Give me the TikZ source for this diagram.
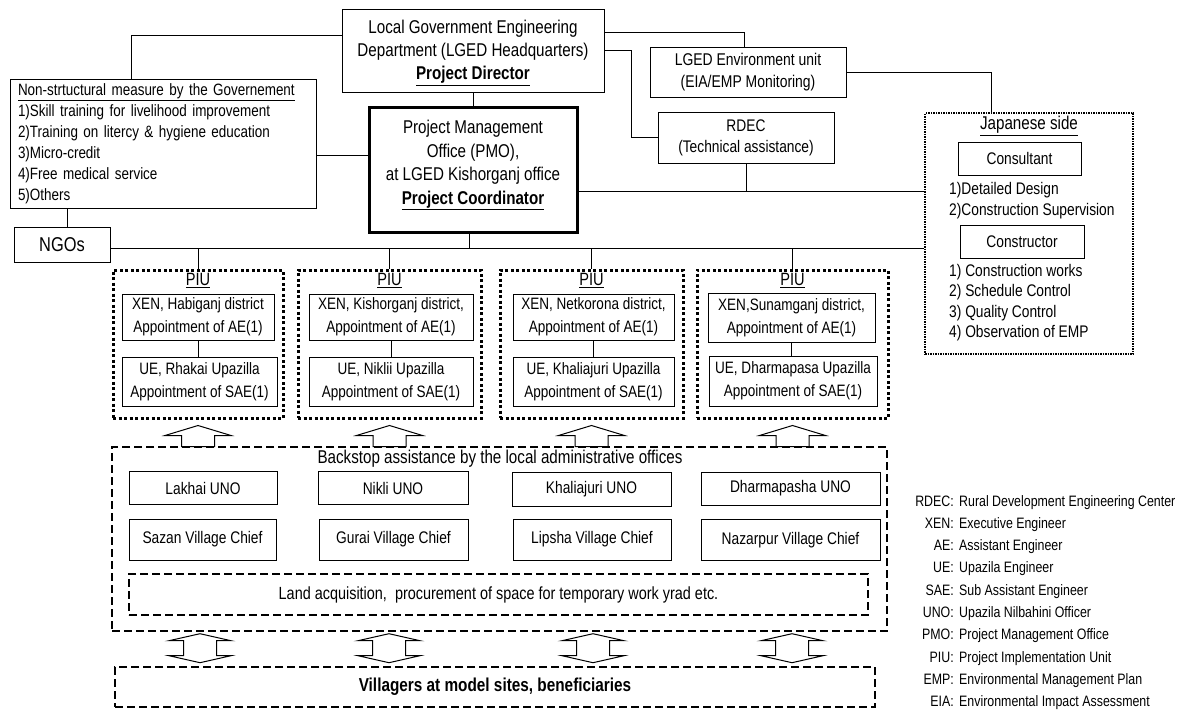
\documentclass[tikz,border=0pt]{standalone}
\usepackage{fontspec}
\setmainfont{Liberation Sans}[FakeStretch=0.82]
\usetikzlibrary{calc}
\newcommand\fsz[2]{\fontsize{#1}{#2}\selectfont}
% underlined bold title with a set depth
\newcommand\ulbold[2]{\raisebox{0pt}[\height][#1]{\underline{\textbf{#2}}}}

\begin{document}
\begin{tikzpicture}[
  x=1pt, y=-1pt,
  box/.style={draw, line width=1pt, inner sep=0pt, align=center, font=\fsz{16.8}{21}},
  pmobox/.style={box, line width=3pt},
  piubox/.style={draw, line width=3pt, dash pattern=on 3pt off 2.5pt, inner sep=0pt},
  jpbox/.style={draw, line width=2pt, dash pattern=on 1.5pt off 1pt, inner sep=0pt},
  dashbox/.style={draw, line width=1.4pt, dash pattern=on 8pt off 4pt, inner sep=0pt, align=center},
  link/.style={draw, line width=1pt},
  uparrow/.pic={\draw[line width=1pt] (0,0) -- (33,10) -- (16.5,10) -- (16.5,21) -- (-16.5,21) -- (-16.5,10) -- (-33,10) -- cycle;},
  updown/.pic={\draw[line width=1pt] (0,0) -- (31,7) -- (16.5,7) -- (16.5,22) -- (31,22) -- (0,29) -- (-31,22) -- (-16.5,22) -- (-16.5,7) -- (-31,7) -- cycle;}
]
\useasboundingbox (0,0) rectangle (1188,718);

% ------------------------------------------------------------------
% Government side
% ------------------------------------------------------------------
\node[box, font=\fsz{18.5}{23}, minimum width=262pt, minimum height=83pt] (hq) at (473,50.5)
{Local Government Engineering\\Department (LGED Headquarters)\\\ulbold{1pt}{Project Director}};

\node[box, font=\fsz{16.4}{21}, align=left, text width=290pt, inner xsep=8pt, minimum height=129pt] (ns) at (163,143.5)
{\underline{Non-strtuctural measure by the Governement}\\1)Skill training for livelihood improvement\\2)Training on litercy \& hygiene education\\3)Micro-credit\\4)Free medical service\\5)Others};

\node[box, font=\fsz{20}{24}, minimum width=96pt, minimum height=35pt] (ngo) at (62,245) {NGOs};

\node[pmobox, font=\fsz{18.5}{23.5}, minimum width=208pt, minimum height=125pt] (pmo) at (473,169.5)
{Project Management\\Office (PMO),\\at LGED Kishorganj office\\\ulbold{14pt}{Project Coordinator}};

\node[box, font=\fsz{17}{22}, minimum width=196pt, minimum height=50pt] (env) at (748,72) {LGED Environment unit\\(EIA/EMP Monitoring)};
\node[box, font=\fsz{16.8}{21}, minimum width=176pt, minimum height=51pt] (rdec) at (746,137.5) {RDEC\\(Technical assistance)};

% ------------------------------------------------------------------
% Japanese side
% ------------------------------------------------------------------
\node[jpbox, minimum width=208pt, minimum height=241pt] (jp) at (1029,233.5) {};
\node[font=\fsz{18.5}{22}] (jptitle) at (1029,126) {\underline{Japanese side}};
\node[box, minimum width=123pt, minimum height=33pt] (cons) at (1019.5,158.5) {Consultant};
\node[font=\fsz{16.8}{21}, align=left, anchor=north west, inner sep=0pt] (consjob) at (949,182) {1)Detailed Design\\2)Construction Supervision};
\node[box, minimum width=124pt, minimum height=33pt] (ctr) at (1022,241.5) {Constructor};
\node[font=\fsz{16.8}{20.5}, align=left, anchor=north west, inner sep=0pt] (ctrjob) at (949,264)
{1) Construction works\\2) Schedule Control\\3) Quality Control\\4) Observation of EMP};

% ------------------------------------------------------------------
% connectors
% ------------------------------------------------------------------
\coordinate (nsup) at ($(ns.north)+(-32,0)$);
\draw[link] (nsup) |- ($(hq.west)+(0,-15.5)$);
\coordinate (ngoup) at ($(ngo.north)+(5,0)$);
\draw[link] (ngoup) -- (ngoup |- ns.south);
\coordinate (nsright) at ($(ns.east)+(0,11.5)$);
\draw[link] (nsright) -- (nsright -| pmo.west);
\draw[link] (hq.south) -- (pmo.north);
\coordinate (hqtop) at ($(hq.north east)+(0,24)$);
\draw[link] (hqtop) -| ($(env.north)+(-4,0)$);
\draw[link] (hq.east) -- ++(27,0) |- (rdec.west);
\draw[link] (env.east) -| ($(jp.north)+(-38,0)$);
\coordinate (rbus) at ($(pmo.east)+(0,21.5)$);
\draw[link] (rbus) -- (rbus -| jp.west);
\draw[link] (rdec.south) -- (rdec.south |- rbus);
\coordinate (bus) at ($(ngo.east)+(0,3)$);
\draw[link] (bus) -- (bus -| jp.west);
\draw[link] ($(pmo.south)+(-4,0)$) -- ($(pmo.south |- bus)+(-4,0)$);

% ------------------------------------------------------------------
% PIUs
% ------------------------------------------------------------------
\node[piubox, minimum width=170pt, minimum height=148pt] (piu1) at (198,344) {};
\node[piubox, minimum width=183pt, minimum height=148pt] (piu2) at (389.5,344) {};
\node[piubox, minimum width=183pt, minimum height=148pt] (piu3) at (591.5,344) {};
\node[piubox, minimum width=191pt, minimum height=148pt] (piu4) at (792.5,344) {};

\foreach \p in {piu1,piu2,piu3,piu4} {
  \node[font=\fsz{17.8}{21}] (\p t) at ($(\p.north)+(0,12)$) {\underline{PIU}};
  \draw[link] (\p.north |- bus) -- (\p.north);
  \pic at ($(\p.south)+(0,6)$) {uparrow};
}

\node[box, font=\fsz{16.5}{23}, minimum width=152pt, minimum height=46pt] (xen1) at (198,317) {XEN, Habiganj district\\Appointment of AE(1)};
\node[box, font=\fsz{16.5}{23}, minimum width=155pt, minimum height=49pt] (ue1) at (199.5,381.5) {UE, Rhakai Upazilla\\Appointment of SAE(1)};
\node[box, font=\fsz{16.5}{23}, minimum width=164pt, minimum height=46pt] (xen2) at (391,317) {XEN, Kishorganj district,\\Appointment of AE(1)};
\node[box, font=\fsz{16.5}{23}, minimum width=164pt, minimum height=49pt] (ue2) at (391,381.5) {UE, Niklii Upazilla\\Appointment of SAE(1)};
\node[box, font=\fsz{16.5}{23}, minimum width=161pt, minimum height=46pt] (xen3) at (593.5,317) {XEN, Netkorona district,\\Appointment of AE(1)};
\node[box, font=\fsz{16.5}{23}, minimum width=161pt, minimum height=49pt] (ue3) at (593.5,381.5) {UE, Khaliajuri Upazilla\\Appointment of SAE(1)};
\node[box, font=\fsz{16.5}{23}, minimum width=167pt, minimum height=49pt] (xen4) at (791.5,317.5) {XEN,Sunamganj district,\\Appointment of AE(1)};
\node[box, font=\fsz{16.5}{23}, minimum width=168pt, minimum height=50pt] (ue4) at (793,381) {UE, Dharmapasa Upazilla\\Appointment of SAE(1)};

\foreach \i in {1,...,4}
  \draw[link] (xen\i.south) -- (xen\i.south |- ue\i.north);

% ------------------------------------------------------------------
% backstop and villagers
% ------------------------------------------------------------------
\node[dashbox, minimum width=775pt, minimum height=184pt] (back) at (499.5,539) {};
\node[font=\fsz{18.5}{22}] (backt) at (500,459) {Backstop assistance by the local administrative offices};

\node[box, minimum width=148pt, minimum height=33pt] (uno1) at (203,488) {Lakhai UNO};
\node[box, minimum width=150pt, minimum height=33pt] (uno2) at (393,488) {Nikli UNO};
\node[box, minimum width=159pt, minimum height=34pt] (uno3) at (591.5,489) {Khaliajuri UNO};
\node[box, minimum width=179pt, minimum height=33pt] (uno4) at (790.5,488.5) {Dharmapasha UNO};

\node[box, minimum width=147pt, minimum height=41pt] (chief1) at (202.5,539.5) {Sazan Village Chief};
\node[box, minimum width=149pt, minimum height=41pt] (chief2) at (393.5,539.5) {Gurai Village Chief};
\node[box, minimum width=158pt, minimum height=41pt] (chief3) at (592,539.5) {Lipsha Village Chief};
\node[box, minimum width=179pt, minimum height=41pt] (chief4) at (790.5,540) {Nazarpur Village Chief};

\node[dashbox, font=\fsz{17.6}{21}, minimum width=739pt, minimum height=41pt] (land) at (498.5,594.5)
{Land acquisition,~ procurement of space for temporary work yrad etc.};

\node[dashbox, font=\fsz{18.7}{22}\bfseries, minimum width=760pt, minimum height=40pt] (vill) at (495,687)
{Villagers at model sites, beneficiaries};

\foreach \x in {200,389,593,792}
  \pic at ($(\x,0 |- back.south)+(0,2)$) {updown};

% ------------------------------------------------------------------
% abbreviations
% ------------------------------------------------------------------
\foreach \k/\v [count=\i from 0] in {RDEC/Rural Development Engineering Center, XEN/Executive Engineer,
  AE/Assistant Engineer, UE/Upazila Engineer, SAE/Sub Assistant Engineer, UNO/Upazila Nilbahini Officer,
  PMO/Project Management Office, PIU/Project Implementation Unit, EMP/Environmental Management Plan,
  EIA/Environmental Impact Assessment} {
  \node[font=\fsz{15.1}{18}, anchor=base east, inner sep=0pt] (key\i) at (954,{506+22.3*\i}) {\k:};
  \node[font=\fsz{15.1}{18}, anchor=base west, inner sep=0pt] (val\i) at ($(key\i.base east)+(5,0)$) {\v};
}

\end{tikzpicture}
\end{document}
